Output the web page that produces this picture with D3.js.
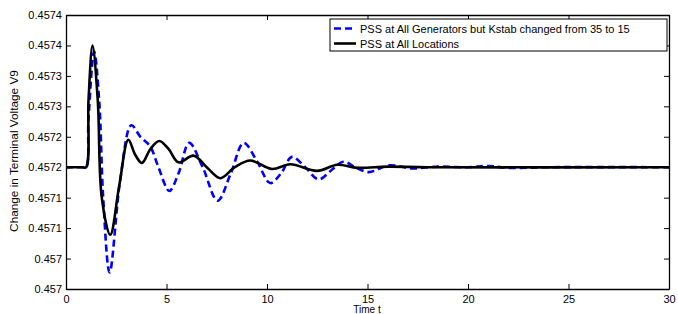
<!DOCTYPE html>
<html>
<head>
<meta charset="utf-8">
<script src="https://cdn.jsdelivr.net/npm/d3@7"></script>
<style>
body { margin: 0; background: #fff; }
text { font-family: "Liberation Sans", Arial, sans-serif; }
</style>
</head>
<body>
<svg width="678" height="314"></svg>
<script>
// time points and voltage values
var blueT = [0, 0.8, 1.0, 1.12, 1.4, 1.65, 1.85, 2.17, 2.7, 3.25, 3.7, 4.19, 4.6, 5.14, 5.6, 6.13, 6.8, 7.54, 8.2, 8.84, 9.5, 10.16, 10.7, 11.24, 11.9, 12.57, 13.2, 13.8, 14.4, 15.05, 16.1, 17.2, 18.5, 20, 21, 22, 24, 30];
var blueV = [0.45720, 0.45720, 0.45720, 0.45728, 0.45739, 0.45731, 0.45715, 0.457027, 0.45718, 0.457269, 0.45725, 0.457234, 0.45720, 0.457161, 0.45719, 0.45724, 0.45720, 0.457145, 0.45719, 0.45724, 0.45721, 0.457174, 0.45719, 0.457217, 0.45720, 0.45718, 0.457195, 0.457209, 0.45720, 0.457192, 0.457203, 0.457198, 0.457201, 0.45720, 0.457202, 0.457199, 0.45720, 0.45720];
var blackT = [0, 0.8, 1.0, 1.12, 1.32, 1.58, 1.78, 2.2, 2.65, 3.1, 3.45, 3.78, 4.2, 4.64, 5.1, 5.6, 6.35, 7.0, 7.68, 8.4, 9.17, 10.25, 11.16, 12.49, 13.5, 14.5, 16, 18, 30];
var blackV = [0.45720, 0.45720, 0.45720, 0.45731, 0.45740, 0.45731, 0.45715, 0.457089, 0.45717, 0.457245, 0.45722, 0.457207, 0.45723, 0.457243, 0.45723, 0.457208, 0.457219, 0.45720, 0.457182, 0.45720, 0.457211, 0.457197, 0.457205, 0.457194, 0.457204, 0.457199, 0.457201, 0.45720, 0.45720];
var xTicks = [0, 5, 10, 15, 20, 25, 30];
var yTicks = [0.45700, 0.45705, 0.45710, 0.45715, 0.45720, 0.45725, 0.45730, 0.45735, 0.45740, 0.45745];
var yLabels = ["0.457", "0.457", "0.4571", "0.4571", "0.4572", "0.4572", "0.4573", "0.4573", "0.4574", "0.4574"];
var names = ["PSS at All Generators but Kstab changed from 35 to 15", "PSS at All Locations"];

var svg = d3.select("svg");
var pLeft = 66, pRight = 669, pTop = 15, pBottom = 289;

var x = d3.scaleLinear().domain([0, 30]).range([pLeft, pRight]);
var y = d3.scaleLinear().domain([0.457, 0.45745]).range([pBottom, pTop]);

var line = d3.line()
    .x(function(d){ return x(d[0]); })
    .y(function(d){ return y(d[1]); })
    .curve(d3.curveCatmullRom.alpha(0.5));

var blueData = blueT.map(function(t, i){ return [t, blueV[i]]; });
var blackData = blackT.map(function(t, i){ return [t, blackV[i]]; });

var plot = svg.append("g");
plot.append("path").datum(blueData)
    .attr("d", line)
    .attr("fill", "none")
    .attr("stroke", "#0000ff")
    .attr("stroke-width", 2.6)
    .attr("stroke-dasharray", "7,4");
plot.append("path").datum(blackData)
    .attr("d", line)
    .attr("fill", "none")
    .attr("stroke", "#000")
    .attr("stroke-width", 2.6);

// axes with inward ticks (matlab style)
svg.append("g").attr("transform", "translate(0," + pBottom + ")")
    .call(d3.axisBottom(x).tickValues(xTicks).tickSizeInner(-5).tickSizeOuter(0).tickPadding(6));
svg.append("g").attr("transform", "translate(0," + pTop + ")")
    .call(d3.axisTop(x).tickValues(xTicks).tickSizeInner(-5).tickSizeOuter(0).tickFormat(""));
svg.append("g").attr("transform", "translate(" + pLeft + ",0)")
    .call(d3.axisLeft(y).tickValues(yTicks).tickSizeInner(-5).tickSizeOuter(0).tickPadding(4)
        .tickFormat(function(d, i){ return yLabels[i]; }));
svg.append("g").attr("transform", "translate(" + pRight + ",0)")
    .call(d3.axisRight(y).tickValues(yTicks).tickSizeInner(-5).tickSizeOuter(0).tickFormat(""));

svg.selectAll(".domain").attr("stroke", "#000").attr("stroke-width", 1.3);
svg.selectAll(".tick line").attr("stroke", "#000");
svg.selectAll(".tick text").attr("font-size", 11).attr("fill", "#000")
    .attr("font-family", "Liberation Sans, Arial, sans-serif");

svg.append("text")
    .attr("x", 367).attr("y", 313)
    .attr("text-anchor", "middle")
    .attr("font-size", 10)
    .text("Time t");

svg.append("text")
    .attr("transform", "translate(18,151) rotate(-90)")
    .attr("text-anchor", "middle")
    .attr("font-size", 11.8)
    .text("Change in Terminal Voltage V9");

// legend
var lg = svg.append("g");
lg.append("rect")
    .attr("x", 330).attr("y", 19).attr("width", 337).attr("height", 32)
    .attr("fill", "#fff").attr("stroke", "#000").attr("stroke-width", 1);
var rows = [{c: "#0000ff", dash: "7,4", y: 28.5}, {c: "#000", dash: null, y: 43.5}];
rows.forEach(function(r, i){
    lg.append("line")
        .attr("x1", 334).attr("x2", 356).attr("y1", r.y).attr("y2", r.y)
        .attr("stroke", r.c).attr("stroke-width", 2.6)
        .attr("stroke-dasharray", r.dash);
    lg.append("text")
        .attr("x", 360).attr("y", r.y + 4)
        .attr("font-size", 11)
        .text(names[i]);
});
</script>
</body>
</html>
